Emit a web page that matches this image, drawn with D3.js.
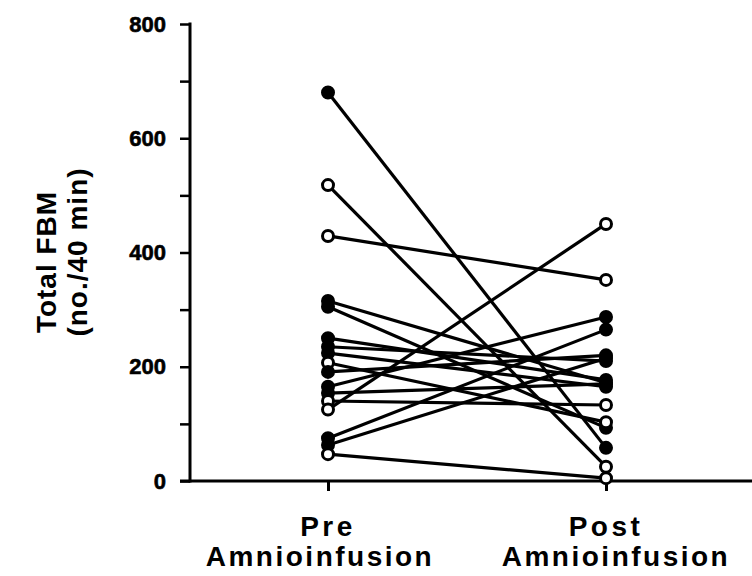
<!DOCTYPE html>
<html>
<head>
<meta charset="utf-8">
<script src="https://cdn.jsdelivr.net/npm/d3@7"></script>
<style>
  body { margin: 0; background: #fff; }
  svg { display: block; }
  text { font-family: "Liberation Sans", Arial, sans-serif; font-weight: bold; fill: #000; }
</style>
</head>
<body>
<svg id="chart" width="752" height="576"></svg>
<script>
// one entry per subject: value before and after amnioinfusion
const preValues  = [680, 518, 429, 315, 305, 250, 235, 224, 207, 191, 165, 154, 140, 125, 75, 63, 47]
const postValues = [58, 25, 352, 172, 93, 177, 210, 165, 103, 220, 287, 170, 133, 450, 265, 215, 5]
const filled     = [true, false, false, true, true, true, true, true, false, true, true, true, false, false, true, true, false]
const phases = ['Pre', 'Post']
const yTicks = [0, 100, 200, 300, 400, 500, 600, 700, 800]

const svg = d3.select('#chart')

const x = d3.scalePoint().domain(phases).range([328, 606])
const y = d3.scaleLinear().domain([0, 800]).range([481, 24])

// axes
const yAxis = d3.axisLeft(y).tickValues(yTicks).tickSize(10).tickPadding(14)
  .tickFormat(function (d) { return d % 200 === 0 ? d : '' })
const ya = svg.append('g').attr('transform', 'translate(190,0)').call(yAxis)
ya.select('.domain').remove()
ya.append('line').attr('x1', 0).attr('x2', 0).attr('y1', y(800) - 1.5).attr('y2', y(0) + 1.5)
  .attr('stroke', '#000').attr('stroke-width', 3)
ya.selectAll('.tick line').attr('stroke', '#000').attr('stroke-width', 2.5)
ya.selectAll('.tick text').attr('font-size', 22).attr('font-family', '"Liberation Sans", Arial, sans-serif')
  .attr('font-weight', 'normal').style('stroke', '#000').style('stroke-width', 0.6)

const xAxis = d3.axisBottom(x).tickSize(10).tickFormat('')
const xa = svg.append('g').attr('transform', 'translate(0,481)').call(xAxis)
xa.select('.domain').remove()
xa.append('line').attr('x1', 180).attr('x2', 752).attr('y1', 0).attr('y2', 0)
  .attr('stroke', '#000').attr('stroke-width', 3)
xa.selectAll('.tick line').attr('stroke', '#000').attr('stroke-width', 3)

// category labels
const sub = ['Amnioinfusion', 'Amnioinfusion']
const labelX = [320, 616]
phases.forEach(function (p, i) {
  svg.append('text').attr('x', x(p)).attr('y', 536).attr('text-anchor', 'middle')
    .attr('font-size', 28).style('letter-spacing', '3.5px').text(p)
  svg.append('text').attr('x', labelX[i]).attr('y', 566).attr('text-anchor', 'middle')
    .attr('font-size', 28).style('letter-spacing', '2.5px').text(sub[i])
})

// y title
svg.append('text').attr('transform', 'translate(56,262) rotate(-90)').attr('text-anchor', 'middle')
  .attr('font-size', 28).style('letter-spacing', '1px').text('Total FBM')
svg.append('text').attr('transform', 'translate(87,252) rotate(-90)').attr('text-anchor', 'middle')
  .attr('font-size', 28).style('letter-spacing', '1px').text('(no./40 min)')

// subject lines
const subjects = preValues.map(function (v, i) { return { pre: v, post: postValues[i], filled: filled[i] } })

svg.append('g').selectAll('line').data(subjects).join('line')
  .attr('x1', x('Pre')).attr('y1', function (d) { return y(d.pre) })
  .attr('x2', x('Post')).attr('y2', function (d) { return y(d.post) })
  .attr('stroke', '#000').attr('stroke-width', 3.2)

const pts = []
subjects.forEach(function (d) {
  pts.push({ k: 'Pre', v: d.pre, filled: d.filled })
  pts.push({ k: 'Post', v: d.post, filled: d.filled })
})
svg.append('g').selectAll('circle').data(pts).join('circle')
  .attr('cx', function (d) { return x(d.k) }).attr('cy', function (d) { return y(d.v) })
  .attr('r', 5.5)
  .attr('fill', function (d) { return d.filled ? '#000' : '#fff' })
  .attr('stroke', '#000').attr('stroke-width', 3)
</script>
</body>
</html>
